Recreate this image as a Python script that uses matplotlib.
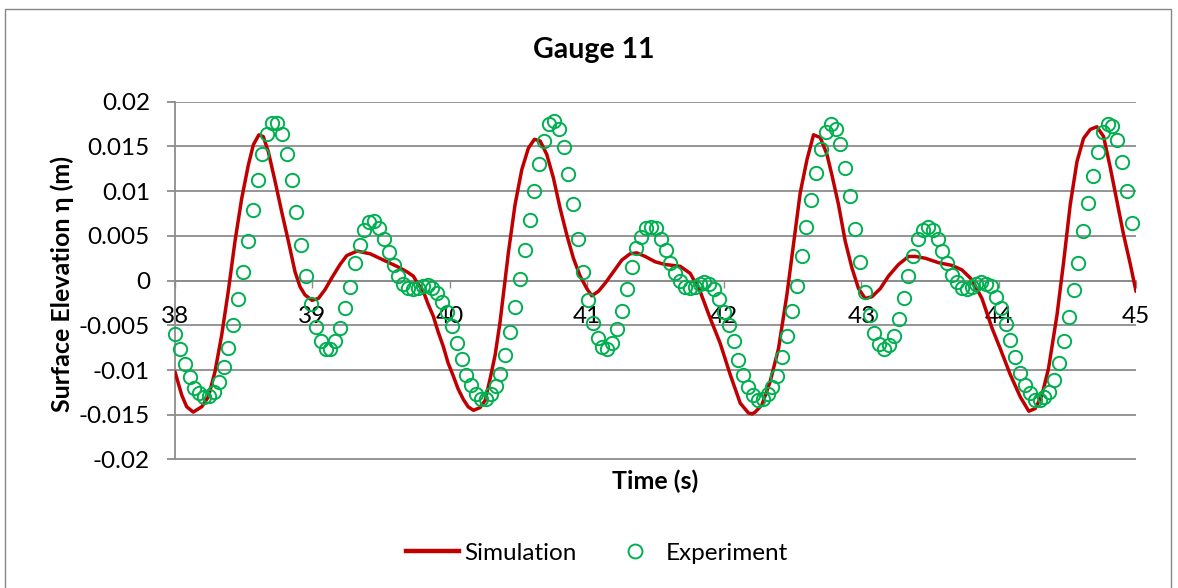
import numpy as np
import matplotlib
matplotlib.use("Agg")
import matplotlib.pyplot as plt
from matplotlib.patches import Rectangle
from matplotlib.lines import Line2D

plt.rcParams['font.family'] = ['Lato', 'DejaVu Sans']

# Simulation: time (s) and surface elevation (m)
sim_t = [38.000, 38.049, 38.085, 38.133, 38.195, 38.243, 38.291, 38.340, 38.388, 38.437,
         38.486, 38.534, 38.571, 38.611, 38.643, 38.680, 38.729, 38.777, 38.826, 38.874,
         38.911, 38.947, 38.998, 39.044, 39.093, 39.142, 39.202, 39.251, 39.326, 39.421,
         39.518, 39.615, 39.688, 39.736, 39.771, 39.809, 39.843, 39.882, 39.916, 39.955,
         39.989, 40.028, 40.062, 40.101, 40.135, 40.174, 40.222, 40.259, 40.295, 40.332,
         40.368, 40.429, 40.477, 40.526, 40.574, 40.618, 40.660, 40.708, 40.756, 40.805,
         40.854, 40.902, 40.951, 41.000, 41.036, 41.084, 41.133, 41.194, 41.255, 41.315,
         41.364, 41.425, 41.498, 41.570, 41.680, 41.753, 41.825, 41.898, 41.971, 42.044,
         42.117, 42.177, 42.204, 42.226, 42.275, 42.335, 42.396, 42.457, 42.505, 42.554,
         42.603, 42.651, 42.700, 42.749, 42.785, 42.833, 42.882, 42.931, 42.979, 43.028,
         43.077, 43.137, 43.197, 43.270, 43.343, 43.392, 43.465, 43.562, 43.659, 43.732,
         43.805, 43.878, 43.951, 44.011, 44.084, 44.157, 44.219, 44.266, 44.315, 44.363,
         44.425, 44.473, 44.521, 44.570, 44.618, 44.667, 44.715, 44.764, 44.813, 44.862,
         44.910, 44.959, 45.000]
sim_eta = [-0.0102, -0.0128, -0.0141, -0.0147, -0.0141, -0.0130, -0.0102, -0.0061, -0.0012, 0.0044,
           0.0092, 0.0129, 0.0152, 0.0163, 0.0161, 0.0144, 0.0111, 0.0077, 0.0044, 0.0010,
           -0.0007, -0.0016, -0.0022, -0.0020, -0.0010, 0.0003, 0.0018, 0.0028, 0.0033, 0.0030,
           0.0023, 0.0016, 0.0010, 0.0005, -0.0004, -0.0012, -0.0026, -0.0040, -0.0057, -0.0074,
           -0.0092, -0.0107, -0.0121, -0.0133, -0.0141, -0.0145, -0.0142, -0.0134, -0.0110, -0.0083,
           -0.0046, 0.0032, 0.0085, 0.0124, 0.0148, 0.0158, 0.0156, 0.0141, 0.0115, 0.0081,
           0.0051, 0.0025, 0.0005, -0.0009, -0.0017, -0.0012, -0.0003, 0.0010, 0.0023, 0.0030,
           0.0031, 0.0027, 0.0021, 0.0018, 0.0016, 0.0008, -0.0012, -0.0042, -0.0070, -0.0105,
           -0.0137, -0.0148, -0.0149, -0.0147, -0.0139, -0.0113, -0.0076, -0.0016, 0.0040, 0.0098,
           0.0135, 0.0163, 0.0160, 0.0141, 0.0118, 0.0085, 0.0044, 0.0014, -0.0009, -0.0020,
           -0.0018, -0.0009, 0.0005, 0.0018, 0.0027, 0.0027, 0.0025, 0.0020, 0.0017, 0.0012,
           0.0001, -0.0020, -0.0053, -0.0076, -0.0105, -0.0130, -0.0146, -0.0143, -0.0128, -0.0098,
           -0.0038, 0.0021, 0.0085, 0.0133, 0.0159, 0.0169, 0.0172, 0.0161, 0.0126, 0.0088,
           0.0051, 0.0018, -0.0012]

# Experiment: gauge samples starting at 38 s
exp_t0 = 38.0
exp_dt = 0.03538
exp_eta = [
    -0.0060, -0.0076, -0.0093, -0.0108, -0.0120, -0.0126, -0.0130, -0.0129, -0.0124, -0.0113,
    -0.0097, -0.0075, -0.0050, -0.0021, 0.0010, 0.0044, 0.0079, 0.0112, 0.0141, 0.0164,
    0.0176, 0.0176, 0.0164, 0.0141, 0.0112, 0.0077, 0.0040, 0.0005, -0.0026, -0.0052,
    -0.0067, -0.0076, -0.0077, -0.0068, -0.0053, -0.0031, -0.0007, 0.0020, 0.0040, 0.0057,
    0.0065, 0.0067, 0.0059, 0.0047, 0.0032, 0.0017, 0.0005, -0.0004, -0.0008, -0.0009,
    -0.0008, -0.0006, -0.0005, -0.0008, -0.0014, -0.0024, -0.0035, -0.0051, -0.0070, -0.0088,
    -0.0105, -0.0117, -0.0127, -0.0132, -0.0132, -0.0127, -0.0118, -0.0104, -0.0083, -0.0058,
    -0.0030, 0.0002, 0.0034, 0.0068, 0.0100, 0.0130, 0.0156, 0.0175, 0.0178, 0.0169,
    0.0149, 0.0119, 0.0086, 0.0047, 0.0010, -0.0022, -0.0047, -0.0064, -0.0074, -0.0076,
    -0.0070, -0.0054, -0.0034, -0.0009, 0.0015, 0.0036, 0.0049, 0.0059, 0.0060, 0.0059,
    0.0047, 0.0034, 0.0020, 0.0008, -0.0001, -0.0007, -0.0008, -0.0007, -0.0004, -0.0002,
    -0.0004, -0.0009, -0.0021, -0.0035, -0.0050, -0.0068, -0.0089, -0.0106, -0.0119, -0.0128,
    -0.0133, -0.0132, -0.0127, -0.0119, -0.0107, -0.0085, -0.0062, -0.0034, -0.0006, 0.0027,
    0.0060, 0.0090, 0.0120, 0.0147, 0.0166, 0.0175, 0.0169, 0.0153, 0.0126, 0.0095,
    0.0058, 0.0021, -0.0013, -0.0039, -0.0059, -0.0071, -0.0076, -0.0072, -0.0062, -0.0043,
    -0.0020, 0.0005, 0.0028, 0.0047, 0.0057, 0.0060, 0.0057, 0.0047, 0.0033, 0.0020,
    0.0006, -0.0002, -0.0008, -0.0009, -0.0007, -0.0004, -0.0002, -0.0004, -0.0006, -0.0018,
    -0.0031, -0.0048, -0.0066, -0.0085, -0.0103, -0.0117, -0.0126, -0.0133, -0.0133, -0.0130,
    -0.0124, -0.0111, -0.0092, -0.0068, -0.0041, -0.0010, 0.0020, 0.0055, 0.0087, 0.0117,
    0.0144, 0.0166, 0.0175, 0.0173, 0.0157, 0.0133, 0.0100, 0.0064]
exp_t = exp_t0 + exp_dt * np.arange(len(exp_eta))

x_ticks = [38, 39, 40, 41, 42, 43, 44, 45]
y_ticks = [-0.02, -0.015, -0.01, -0.005, 0, 0.005, 0.01, 0.015, 0.02]
y_labels = ['-0.02', '-0.015', '-0.01', '-0.005', '0', '0.005', '0.01', '0.015', '0.02']

RED = '#C00000'
GREEN = '#00B050'
GRID = '#8C8C8C'
FS = 17.5

W, H = 1178, 588
fig = plt.figure(figsize=(W / 100, H / 100), dpi=100)
fig.patch.set_facecolor('white')

# chart frame
fig.patches.append(Rectangle((5 / W, -0.02), 1166 / W, 1 - 9 / H + 0.02,
                             transform=fig.transFigure, fill=False,
                             edgecolor='#868686', linewidth=1.0))

ax = fig.add_axes([175 / W, 1 - 459.5 / H, (1136 - 175) / W, (459.5 - 101.7) / H])
ax.set_xlim(38, 45)
ax.set_ylim(-0.02, 0.02)

for v in y_ticks:
    ax.axhline(v, color=GRID, lw=1.3, zorder=1)

ax.plot(sim_t, sim_eta, color=RED, lw=2.5, zorder=3, solid_joinstyle='round',
        solid_capstyle='round')
ax.plot(exp_t, exp_eta, linestyle='none', marker='o', markersize=9.6,
        markerfacecolor='none', markeredgecolor=GREEN, markeredgewidth=1.4, zorder=4,
        clip_on=False)

for s in ['top', 'right']:
    ax.spines[s].set_visible(False)
ax.spines['left'].set_color(GRID)
ax.spines['left'].set_linewidth(1.3)
ax.spines['bottom'].set_position(('data', 0))
ax.spines['bottom'].set_color(GRID)
ax.spines['bottom'].set_linewidth(1.3)

ax.set_xticks(x_ticks)
ax.set_xticklabels([str(v) for v in x_ticks])
ax.set_yticks(y_ticks)
ax.set_yticklabels(y_labels)
ax.tick_params(axis='y', direction='out', length=6, width=1.3, color=GRID,
               pad=12, labelsize=FS)
ax.tick_params(axis='x', direction='out', length=5, width=1.0, color=GRID,
               pad=13.5, labelsize=FS)

fig.text(594 / W, 1 - 50 / H, 'Gauge 11', ha='center', va='center',
         fontsize=FS + 3, fontweight='bold')
fig.text(655 / W, 1 - 481 / H, 'Time (s)', ha='center', va='center',
         fontsize=FS + 0.5, fontweight='bold')
fig.text(62 / W, 1 - 284 / H, 'Surface Elevation η (m)', ha='center', va='center',
         rotation=90, fontsize=FS + 0.5, fontweight='bold')

handles = [Line2D([], [], color=RED, lw=3.2),
           Line2D([], [], linestyle='none', marker='o', markersize=10,
                  markerfacecolor='none', markeredgecolor=GREEN, markeredgewidth=1.4)]
fig.legend(handles, ['Simulation', 'Experiment'], loc='center',
           bbox_to_anchor=(597 / W, 1 - 553 / H), ncol=2, frameon=False,
           fontsize=FS, handlelength=2.2, handletextpad=0.2, columnspacing=1.3,
           borderpad=0.0)

fig.savefig('out.png', dpi=100, facecolor='white')
